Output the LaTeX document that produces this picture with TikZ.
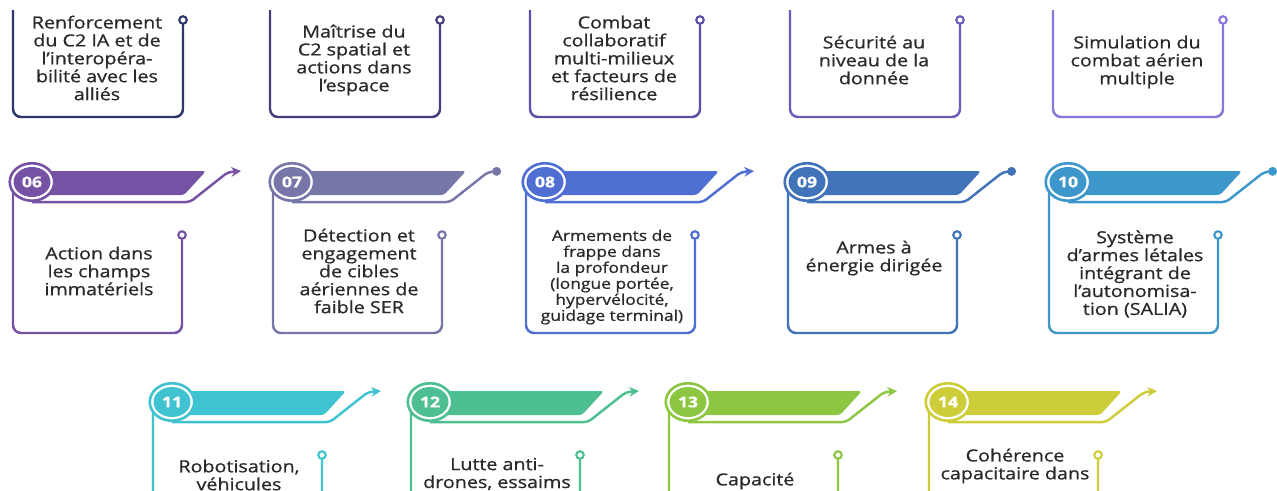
\documentclass[tikz,border=0pt]{standalone}
\usepackage{fontspec}
\setmainfont[FakeStretch=1.18, FakeBold=0.8]{Open Sans}
\usetikzlibrary{arrows.meta, shapes.geometric, positioning}

\definecolor{RowOneA}{RGB}{44,54,104}
\definecolor{RowOneB}{RGB}{74,60,124}
\definecolor{RowOneC}{RGB}{90,78,166}
\definecolor{RowOneD}{RGB}{106,92,184}
\definecolor{RowOneE}{RGB}{139,117,218}
\definecolor{RowTwoA}{RGB}{118,82,165}
\definecolor{RowTwoB}{RGB}{118,119,168}
\definecolor{RowTwoC}{RGB}{79,112,210}
\definecolor{RowTwoD}{RGB}{65,115,184}
\definecolor{RowTwoE}{RGB}{61,151,203}
\definecolor{RowThreeA}{RGB}{64,195,208}
\definecolor{RowThreeB}{RGB}{77,191,145}
\definecolor{RowThreeC}{RGB}{141,198,65}
\definecolor{RowThreeD}{RGB}{205,205,58}
\definecolor{TextDark}{RGB}{43,40,38}

\begin{document}
\begin{tikzpicture}[x=0.02cm, y=-0.02cm,
	cardline/.style={line width=1.4pt, rounded corners=0.16cm},
	pinring/.style={circle, draw, fill=white, line width=1.2pt, minimum size=0.15cm, inner sep=0pt},
	ringbox/.style={ellipse, draw, fill=white, line width=1.5pt, minimum width=0.89cm, minimum height=0.75cm, inner sep=0pt},
	numbox/.style={ellipse, minimum width=0.74cm, minimum height=0.6cm, inner sep=0pt, text=white, font=\bfseries\fontsize{8.5}{9}\selectfont},
	cardtext/.style={align=center, text=TextDark, inner sep=0pt, font=\fontsize{9.5}{10.2}\selectfont},
	smalltext/.style={cardtext, font=\fontsize{8.4}{9.1}\selectfont},
	arrowend/.style={-{Stealth[length=5.5pt,width=5.5pt]}},
	dotend/.style={-{Circle[length=5pt]}}]
	\useasboundingbox (0,0) rectangle (1277,490);
	\clip (0,0) rectangle (1277,490);
	% first row, only the lower part of the cards
	\foreach \idx/\lx/\col/\ty/\txt in {
		01/13/RowOneA/58/{Renforcement\\du C2 IA et de\\l’interopéra-\\bilité avec les\\alliés},
		02/270/RowOneB/60/{Maîtrise du\\C2 spatial et\\actions dans\\l’espace},
		03/530/RowOneC/58/{Combat\\collaboratif\\multi-milieux\\et facteurs de\\résilience},
		04/790/RowOneD/60/{Sécurité au\\niveau de la\\donnée},
		05/1053/RowOneE/62/{Simulation du\\combat aérien\\multiple}}
	{
		\draw[cardline, draw=\col] (\lx,10) -- (\lx,117) -- (\lx+170,117) -- (\lx+170,24);
		\node[pinring, draw=\col] (pin\idx) at (\lx+170,20) {};
		\node[cardtext] (txt\idx) at (\lx+84,\ty) {\txt};
	}
	% numbered cards
	\foreach \idx/\bx/\by/\col/\tip/\sty/\ty/\txt in {
		06/32/182/RowTwoA/arrowend/cardtext/271/{Action dans\\les champs\\immatériels},
		07/292/182/RowTwoB/dotend/cardtext/271/{Détection et\\engagement\\de cibles\\aériennes de\\faible SER},
		08/545/182/RowTwoC/arrowend/smalltext/277/{Armements de\\frappe dans\\la profondeur\\(longue portée,\\hypervélocité,\\guidage terminal)},
		09/807/182/RowTwoD/dotend/cardtext/258/{Armes à\\énergie dirigée},
		10/1068/182/RowTwoE/dotend/cardtext/274/{Système\\d’armes létales\\intégrant de\\l’autonomisa-\\tion (SALIA)},
		11/172/402/RowThreeA/arrowend/cardtext/475/{Robotisation,\\véhicules},
		12/430/402/RowThreeB/arrowend/cardtext/474/{Lutte anti-\\drones, essaims},
		13/688/402/RowThreeC/arrowend/cardtext/481/{Capacité},
		14/948/402/RowThreeD/arrowend/cardtext/466/{Cohérence\\capacitaire dans}}
	{
		\fill[\col, rounded corners=0.06cm] (\bx,\by-11) -- (\bx+174,\by-11) -- (\bx+152,\by+13) -- (\bx,\by+13) -- cycle;
		\node[ringbox, draw=\col] (ring\idx) at (\bx,\by) {};
		\node[numbox, fill=\col] (num\idx) at (ring\idx) {\idx};
		\draw[cardline, draw=\col] (\bx-19,\by+9) -- (\bx-19,\by+151) -- (\bx+150,\by+151) -- (\bx+150,\by+57);
		\node[pinring, draw=\col] (pin\idx) at (\bx+150,\by+53) {};
		\draw[cardline, draw=\col, \tip, rounded corners=0.08cm] (ring\idx.south) -- ++(158,0) -- ++(38,-30) -- ++(13,-1);
		\node[\sty] (txt\idx) at (\bx+67,\ty) {\txt};
	}
\end{tikzpicture}
\end{document}
